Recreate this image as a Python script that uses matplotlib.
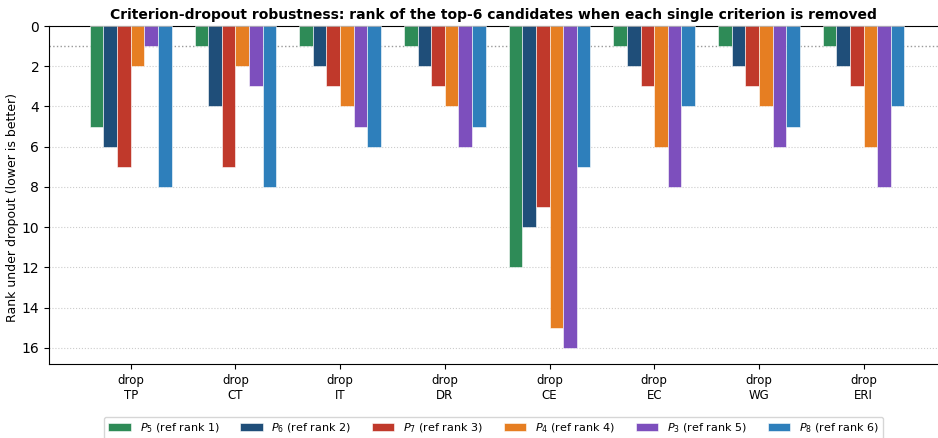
import matplotlib
matplotlib.use("Agg")
import matplotlib.pyplot as plt
import numpy as np

groups = ["drop\nTP", "drop\nCT", "drop\nIT", "drop\nDR", "drop\nCE", "drop\nEC", "drop\nWG", "drop\nERI"]
series_labels = [r"$P_5$ (ref rank 1)", r"$P_6$ (ref rank 2)", r"$P_7$ (ref rank 3)",
                 r"$P_4$ (ref rank 4)", r"$P_3$ (ref rank 5)", r"$P_8$ (ref rank 6)"]
p5 = [5, 1, 1, 1, 12, 1, 1, 1]
p6 = [6, 4, 2, 2, 10, 2, 2, 2]
p7 = [7, 7, 3, 3, 9, 3, 3, 3]
p4 = [2, 2, 4, 4, 15, 6, 4, 6]
p3 = [1, 3, 5, 6, 16, 8, 6, 8]
p8 = [8, 8, 6, 5, 7, 4, 5, 4]
colors = ["#2e8b57", "#1f4e79", "#c0392b", "#e67e22", "#7d4fbd", "#2e7fbb"]

series = [p5, p6, p7, p4, p3, p8]

fig = plt.figure(figsize=(9.38, 4.38), dpi=100)
ax = fig.add_axes([49/938, 1 - 364/438, (938-49)/938, (364-26)/438])

x = np.arange(len(groups))
w = 0.13
for i, (vals, lab, c) in enumerate(zip(series, series_labels, colors)):
    ax.bar(x + (i - 2.5) * w, vals, width=w, color=c, label=lab,
           edgecolor="white", linewidth=0.4, zorder=3)

ax.axhline(1, color="#999999", linestyle=":", linewidth=1.0, zorder=2)
ax.set_ylim(16.8, 0)
ax.set_xlim(-0.78, 7.71)
ax.set_yticks(range(0, 17, 2))
ax.yaxis.grid(True, linestyle=":", color="#cccccc", linewidth=0.8, zorder=0)
ax.set_axisbelow(True)
ax.set_xticks(x)
ax.set_xticklabels(groups, fontsize=8.5)
ax.tick_params(axis="y", labelsize=10)
ax.set_ylabel("Rank under dropout (lower is better)", fontsize=9)
ax.yaxis.set_label_coords(-0.034, 0.464)
ax.set_title("Criterion-dropout robustness: rank of the top-6 candidates when each single criterion is removed",
             fontsize=10, fontweight="bold", pad=5)
ax.spines["right"].set_visible(False)
ax.legend(loc="upper center", bbox_to_anchor=(0.5, -0.14), ncol=6, fontsize=8,
          frameon=True, handlelength=2.0, columnspacing=1.9)

fig.savefig("out.png", dpi=100)
